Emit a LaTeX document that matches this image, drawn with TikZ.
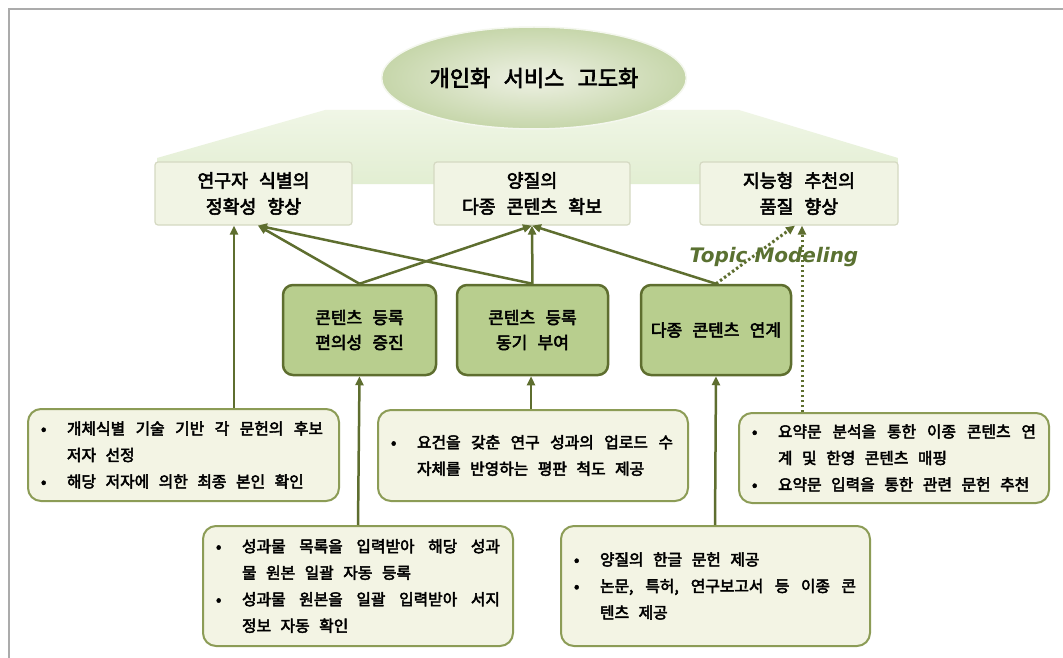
\documentclass[tikz,border=0pt]{standalone}
\usepackage{fontspec}
\setmainfont{Noto Sans CJK KR}[WordSpace=3]
\newfontfamily\krb{Noto Sans CJK KR}[WordSpace=2.8,FakeBold=3]
\newfontfamily\krt{Noto Sans CJK KR}[WordSpace=2.7,FakeBold=3]
\newfontfamily\dvfont{DejaVu Sans}
\usetikzlibrary{arrows.meta,shapes.geometric}
\definecolor{lineol}{HTML}{5E6E2F}
\definecolor{midfill}{HTML}{B8CE8E}
\definecolor{bfill}{HTML}{F3F4E4}
\definecolor{bbord}{HTML}{8C9C56}
\definecolor{tfill}{HTML}{F1F4E4}
\definecolor{tbord}{HTML}{D5D9C2}
\definecolor{framegray}{HTML}{ABABAB}
\definecolor{topicgreen}{HTML}{5A7131}
\definecolor{trapA}{HTML}{F0F6E6}
\definecolor{trapB}{HTML}{E2EED2}
\definecolor{ellin}{HTML}{EEF1E4}
\definecolor{ellout}{HTML}{C6D6AA}
\newcommand\bl{\makebox[29pt][l]{\hspace{3pt}•}}
\newcommand\ind{\hspace*{29pt}}
\newcommand\jl[2]{\makebox[#1][s]{#2}}
\newcommand\rs{\spaceskip=0pt\xspaceskip=0pt\relax}
\begin{document}
\begin{tikzpicture}[x=1pt,y=-1pt,
  tbox/.style={draw=tbord, fill=tfill, line width=1.2pt, rounded corners=3pt, align=center,
    font=\krb\fontsize{18.3}{26}\selectfont, inner sep=0pt},
  mbox/.style={draw=lineol, fill=midfill, line width=2.5pt, rounded corners=10pt, align=center,
    font=\krb\fontsize{17}{25}\selectfont, inner sep=0pt},
  bbox/.style={draw=bbord, fill=bfill, line width=2pt, rounded corners=13pt, align=left,
    inner xsep=10pt, inner ysep=2pt, font=\krt\fontsize{15.8}{26.5}\selectfont},
  arr/.style={draw=lineol, line width=2.5pt, -{Triangle[length=9pt,width=8pt]}},
  darr/.style={draw=lineol, line width=3pt, dash pattern=on 2.5pt off 2.5pt, -{Triangle[length=9pt,width=8pt]}},
]
\useasboundingbox (0,0) rectangle (1063,658);
\fill[white] (0,0) rectangle (1063,658);
% frame
\draw[framegray, line width=2pt] (9,660) -- (9,9) -- (1065,9);

% background trapezoid
\shade[top color=trapA, bottom color=trapB]
  (325,110) -- (739,110) -- (898,158) -- (898,184) -- (157,184) -- (157,158) -- cycle;

% goal ellipse
\node[ellipse, minimum width=262pt, minimum height=102pt, inner color=ellin, outer color=ellout,
  draw=white!80!ellout, line width=1.5pt, font=\krb\fontsize{22}{25}\selectfont] (goal) at (534,78) {개인화 서비스 고도화};

% top boxes
\node[tbox, minimum width=197pt, minimum height=63pt] (top1) at (253.5,193.5) {연구자 식별의\\정확성 향상};
\node[tbox, minimum width=196pt, minimum height=63pt] (top2) at (532,193.5) {양질의\\다종 콘텐츠 확보};
\node[tbox, minimum width=198pt, minimum height=63pt] (top3) at (799,193.5) {지능형 추천의\\품질 향상};

% middle boxes
\node[mbox, minimum width=153pt, minimum height=90pt] (midA) at (359.5,330) {콘텐츠 등록\\편의성 증진};
\node[mbox, minimum width=151pt, minimum height=90pt] (midB) at (532.5,330) {콘텐츠 등록\\동기 부여};
\node[mbox, minimum width=150pt, minimum height=90pt] (midC) at (716,330) {다종 콘텐츠 연계};

% bullet boxes
\node[bbox, text width=291pt, minimum height=92pt] (l1) at (183.5,455) {\rs
\bl\jl{256pt}{개체식별 기술 기반 각 문헌의 후보}\\
\ind 저자 선정\\
\bl 해당 저자에 의한 최종 본인 확인};
\node[bbox, text width=290pt, minimum height=91pt] (l2) at (533,455.5) {\rs
\bl\jl{256pt}{요건을 갖춘 연구 성과의 업로드 수}\\
\ind 자체를 반영하는 평판 척도 제공};
\node[bbox, text width=290pt, minimum height=90pt] (l3) at (894,458) {\rs
\bl\jl{258pt}{요약문 분석을 통한 이종 콘텐츠 연}\\
\ind 계 및 한영 콘텐츠 매핑\\
\bl 요약문 입력을 통한 관련 문헌 추천};
\node[bbox, text width=290pt, minimum height=120pt] (b1) at (358,586) {\rs
\bl\jl{258pt}{성과물 목록을 입력받아 해당 성과}\\
\ind 물 원본 일괄 자동 등록\\
\bl\jl{258pt}{성과물 원본을 일괄 입력받아 서지}\\
\ind 정보 자동 확인};
\node[bbox, text width=289pt, minimum height=120pt] (b2) at (715.5,586) {\rs
\bl 양질의 한글 문헌 제공\\
\bl\jl{256pt}{논문, 특허, 연구보고서 등 이종 콘}\\
\ind 텐츠 제공};

% connectors: middle to top
\draw[arr] (midA.north) -- ([xshift=4.5pt]top1.south);
\draw[arr] (midA.north) -- (top2.south);
\draw[arr] (midB.north) -- ([xshift=4.5pt]top1.south);
\draw[arr] (midB.north) -- (top2.south);
\draw[arr] (midC.north) -- (top2.south);
\draw[darr] (midC.north) -- ([xshift=-4pt]top3.south);

% connectors: bottom to middle / top
\draw[arr] ([xshift=50.5pt]l1.north) -- ([xshift=-19.5pt]top1.south);
\draw[darr] ([xshift=-92pt]l3.north) -- ([xshift=3pt]top3.south);
\draw[arr] (b1.north) -- (midA.south);
\draw[arr] ([xshift=-2pt]l2.north) -- ([xshift=-1.5pt]midB.south);
\draw[arr] ([xshift=-0.5pt]b2.north) -- (midC.south);

% label
\node[font=\dvfont\bfseries\itshape\fontsize{20}{24}\selectfont, text=topicgreen] (topic) at (774,257) {Topic Modeling};
\end{tikzpicture}
\end{document}
